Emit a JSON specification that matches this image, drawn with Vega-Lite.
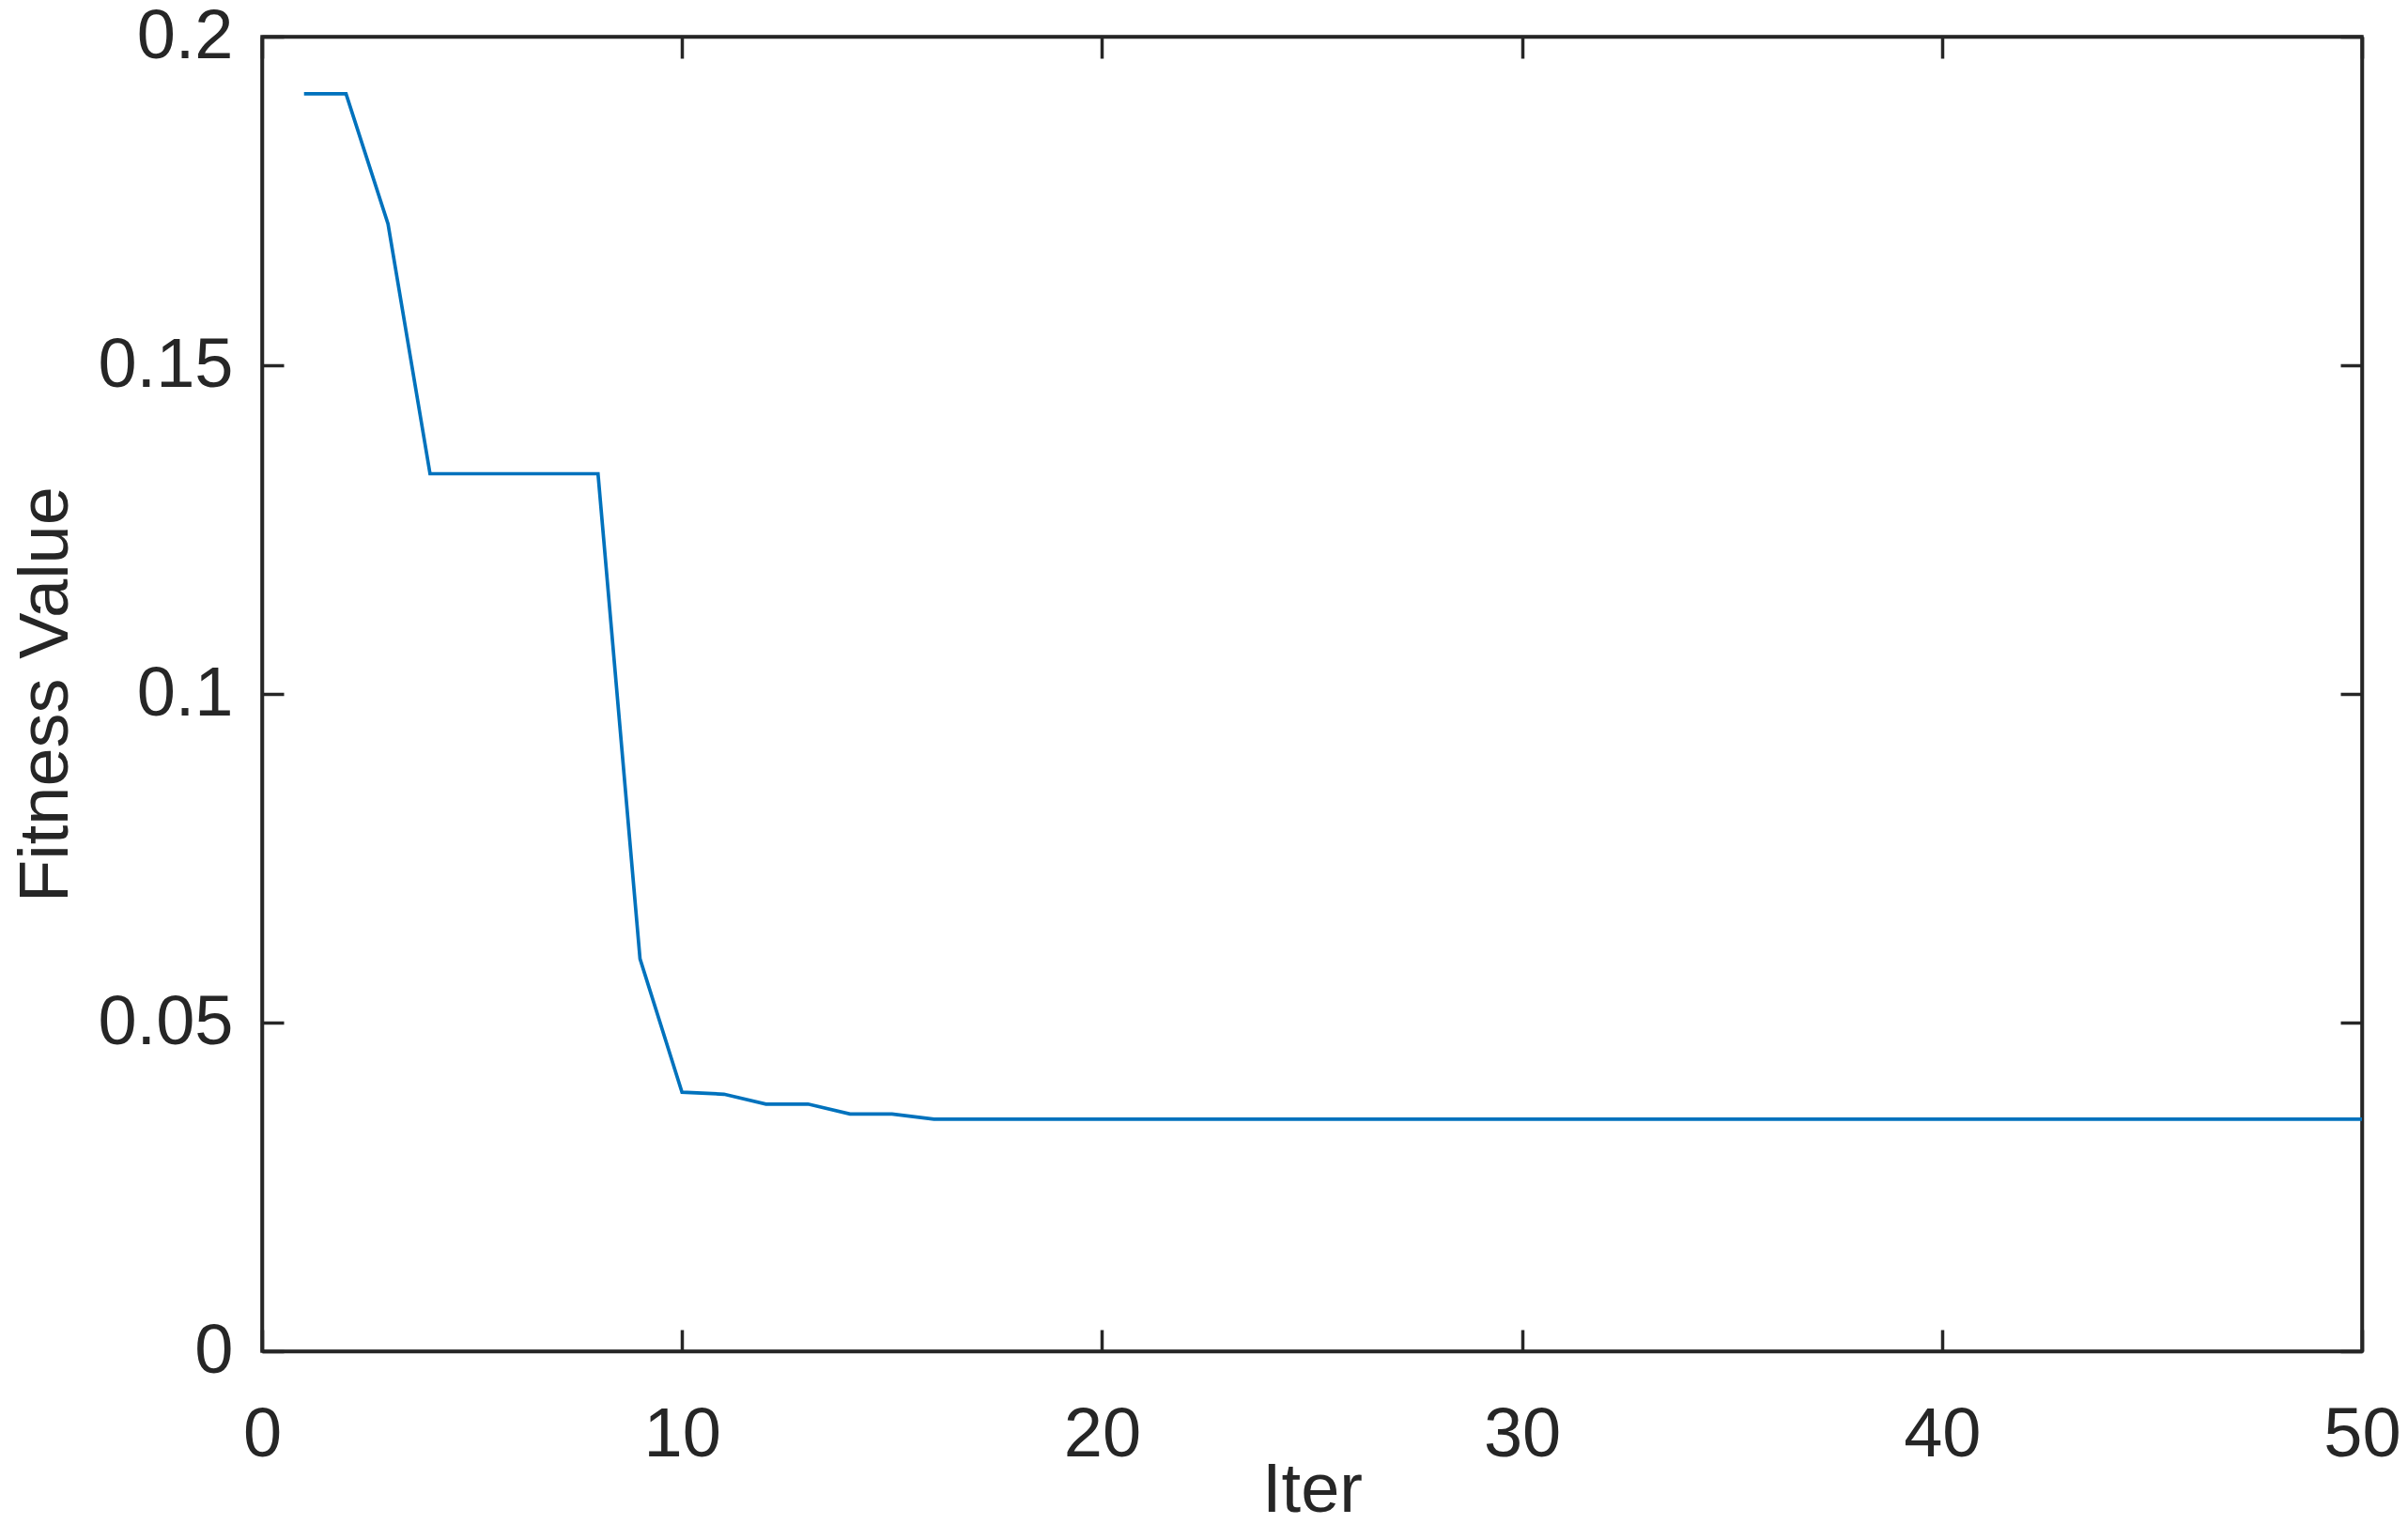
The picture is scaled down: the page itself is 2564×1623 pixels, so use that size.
{
  "$schema": "https://vega.github.io/schema/vega-lite/v6.json",
  "width": 2236,
  "height": 1400,
  "autosize": {"type": "none"},
  "padding": {"left": 279, "top": 39, "right": 49, "bottom": 184},
  "background": "white",
  "config": {
    "view": {"stroke": "#262626", "strokeWidth": 3.5},
    "font": "Liberation Sans",
    "axis": {
      "labelFont": "Liberation Sans",
      "titleFont": "Liberation Sans",
      "labelFontSize": 74,
      "titleFontSize": 74,
      "labelColor": "#262626",
      "titleColor": "#262626",
      "titleFontWeight": "normal",
      "domainColor": "#262626",
      "domainWidth": 3.5,
      "tickColor": "#262626",
      "tickWidth": 3.5,
      "tickSize": -23,
      "grid": false
    }
  },
  "data": {
    "values": [
      {"Iter": 1, "Fitness": 0.1913},
      {"Iter": 2, "Fitness": 0.1913},
      {"Iter": 3, "Fitness": 0.1715},
      {"Iter": 4, "Fitness": 0.1335},
      {"Iter": 5, "Fitness": 0.1335},
      {"Iter": 6, "Fitness": 0.1335},
      {"Iter": 7, "Fitness": 0.1335},
      {"Iter": 8, "Fitness": 0.1335},
      {"Iter": 9, "Fitness": 0.0597},
      {"Iter": 10, "Fitness": 0.0394},
      {"Iter": 11, "Fitness": 0.0391},
      {"Iter": 12, "Fitness": 0.0376},
      {"Iter": 13, "Fitness": 0.0376},
      {"Iter": 14, "Fitness": 0.0361},
      {"Iter": 15, "Fitness": 0.0361},
      {"Iter": 16, "Fitness": 0.0353},
      {"Iter": 17, "Fitness": 0.0353},
      {"Iter": 18, "Fitness": 0.0353},
      {"Iter": 19, "Fitness": 0.0353},
      {"Iter": 20, "Fitness": 0.0353},
      {"Iter": 21, "Fitness": 0.0353},
      {"Iter": 22, "Fitness": 0.0353},
      {"Iter": 23, "Fitness": 0.0353},
      {"Iter": 24, "Fitness": 0.0353},
      {"Iter": 25, "Fitness": 0.0353},
      {"Iter": 26, "Fitness": 0.0353},
      {"Iter": 27, "Fitness": 0.0353},
      {"Iter": 28, "Fitness": 0.0353},
      {"Iter": 29, "Fitness": 0.0353},
      {"Iter": 30, "Fitness": 0.0353},
      {"Iter": 31, "Fitness": 0.0353},
      {"Iter": 32, "Fitness": 0.0353},
      {"Iter": 33, "Fitness": 0.0353},
      {"Iter": 34, "Fitness": 0.0353},
      {"Iter": 35, "Fitness": 0.0353},
      {"Iter": 36, "Fitness": 0.0353},
      {"Iter": 37, "Fitness": 0.0353},
      {"Iter": 38, "Fitness": 0.0353},
      {"Iter": 39, "Fitness": 0.0353},
      {"Iter": 40, "Fitness": 0.0353},
      {"Iter": 41, "Fitness": 0.0353},
      {"Iter": 42, "Fitness": 0.0353},
      {"Iter": 43, "Fitness": 0.0353},
      {"Iter": 44, "Fitness": 0.0353},
      {"Iter": 45, "Fitness": 0.0353},
      {"Iter": 46, "Fitness": 0.0353},
      {"Iter": 47, "Fitness": 0.0353},
      {"Iter": 48, "Fitness": 0.0353},
      {"Iter": 49, "Fitness": 0.0353},
      {"Iter": 50, "Fitness": 0.0353}
    ]
  },
  "layer": [
    {
      "mark": {"type": "line", "color": "#0072BD", "strokeWidth": 3.7, "clip": true},
      "encoding": {
        "x": {
          "field": "Iter",
          "type": "quantitative",
          "scale": {"domain": [0, 50], "nice": false, "zero": false},
          "axis": {
            "title": "Iter",
            "values": [0, 10, 20, 30, 40, 50],
            "labelPadding": 76,
            "labelFlush": false,
            "titlePadding": -14
          }
        },
        "y": {
          "field": "Fitness",
          "type": "quantitative",
          "scale": {"domain": [0, 0.2], "nice": false},
          "axis": {
            "title": "Fitness Value",
            "values": [0, 0.05, 0.1, 0.15, 0.2],
            "labelExpr": "datum.value == 0 ? '0' : replace(format(datum.value, '.2~f'), /^0\\./, '0.')",
            "labelPadding": 54,
            "labelFlush": false,
            "titlePadding": 16
          }
        }
      }
    },
    {
      "mark": {"type": "line", "strokeOpacity": 0, "clip": true},
      "encoding": {
        "x": {
          "field": "Iter",
          "type": "quantitative",
          "scale": {"domain": [0, 50], "nice": false, "zero": false},
          "axis": {
            "orient": "top",
            "title": null,
            "labels": false,
            "values": [0, 10, 20, 30, 40, 50]
          }
        },
        "y": {
          "field": "Fitness",
          "type": "quantitative",
          "scale": {"domain": [0, 0.2], "nice": false},
          "axis": {
            "orient": "right",
            "title": null,
            "labels": false,
            "values": [0, 0.05, 0.1, 0.15, 0.2]
          }
        }
      }
    }
  ],
  "resolve": {"axis": {"x": "independent", "y": "independent"}}
}
